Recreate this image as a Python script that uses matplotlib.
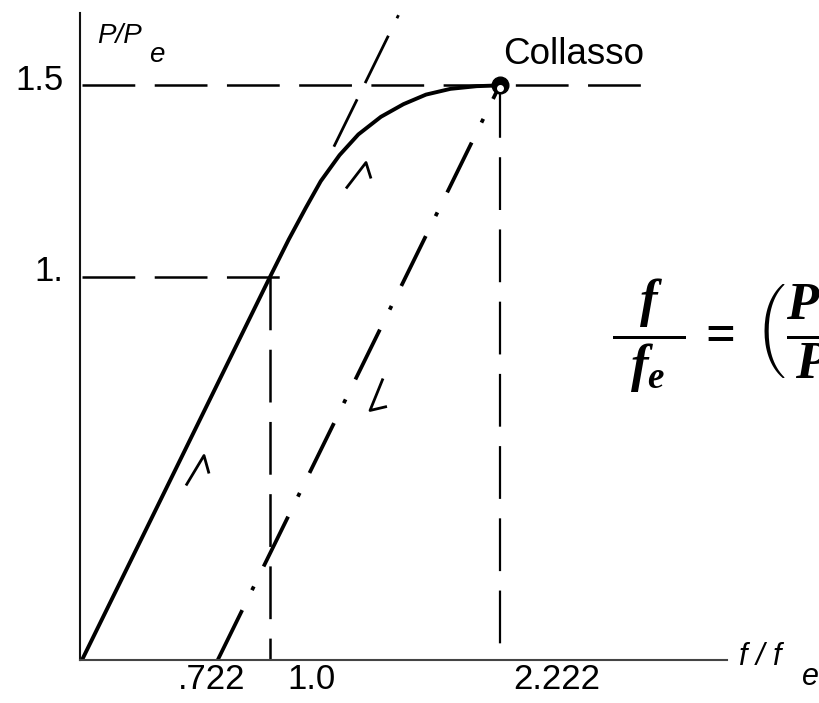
import matplotlib
matplotlib.use("Agg")
import matplotlib.pyplot as plt
import matplotlib.transforms as mtransforms
from matplotlib.path import Path
from matplotlib.markers import MarkerStyle

plt.rcParams["font.family"] = ["Liberation Sans", "DejaVu Sans"]
plt.rcParams["lines.scale_dashes"] = False
plt.rcParams["mathtext.fontset"] = "custom"
plt.rcParams["mathtext.it"] = "Liberation Serif:bold:italic"
plt.rcParams["mathtext.rm"] = "Liberation Serif:bold"
plt.rcParams["mathtext.bf"] = "Liberation Serif:bold:italic"

# load path: elastic branch up to first yield, then elasto-plastic branch to collapse
load_f = [0.0, 1.0, 1.10, 1.19, 1.27, 1.37, 1.47, 1.59, 1.71, 1.83, 1.96, 2.10, 2.222]
load_p = [0.0, 1.0, 1.098, 1.18, 1.25, 1.318, 1.372, 1.418, 1.451, 1.476, 1.491, 1.498, 1.5]

# continuation of the elastic line beyond yield
elastic_f = [1.34, 1.685]
elastic_p = [1.34, 1.685]

# elastic unloading from collapse to the residual deflection
unload_f = [0.722, 2.222]
unload_p = [0.0, 1.5]

f_yield, p_yield = 1.0, 1.0
f_coll, p_coll = 2.222, 1.5

x_tick_vals = [0.722, 1.0, 2.222]
x_tick_text = [".722", "1.0", "2.222"]
y_tick_vals = [1.0, 1.5]
y_tick_text = ["1.", "1.5"]

fig = plt.figure(figsize=(8.2, 7.03), dpi=100)
ax = fig.add_axes([80 / 820, 43 / 703, 647 / 820, 647 / 703])
ax.set_xlim(-0.0106, 3.431)
ax.set_ylim(0.0, 1.689)
for s in ("top", "right"):
    ax.spines[s].set_visible(False)
ax.spines["left"].set_linewidth(1.5)
ax.spines["left"].set_color("#111111")
ax.spines["bottom"].set_linewidth(1.5)
ax.spines["bottom"].set_color("#444444")
ax.set_xticks([])
ax.set_yticks([])

dash = (0, (38, 14))
dashdot = (0, (40, 16, 3, 16))

# reference levels
ax.plot([0, 3.01], [p_coll, p_coll], color="black", lw=1.8, ls=dash)
ax.plot([0, 1.06], [p_yield, p_yield], color="black", lw=1.8, ls=dash)
ax.plot([f_yield, f_yield], [p_yield, 0], color="black", lw=1.8, ls=dash)
ax.plot([f_coll, f_coll], [p_coll, 0], color="black", lw=1.6, ls=dash)

# curves
ax.plot(load_f, load_p, color="black", lw=2.8, solid_capstyle="round", solid_joinstyle="round")
ax.plot(elastic_f, elastic_p, color="black", lw=2.0, ls=(0, (38, 13, 38, 14, 2.5, 20)))
ax.plot(unload_f, unload_p, color="black", lw=2.7, ls=dashdot)

# direction marks
def chevron(verts):
    return MarkerStyle(Path(verts, [Path.MOVETO, Path.LINETO, Path.LINETO]))

mark = dict(mew=2.0, mfc="none", mec="black", ls="none")
ax.plot([0.61], [0.496], marker=chevron([(-11.5, -15), (6.5, 15), (11.5, -3)]), ms=21.6, **mark)
ax.plot([1.466], [1.266], marker=chevron([(-12.5, -13), (7.5, 13), (12.5, -3)]), ms=18.7, **mark)
ax.plot([1.577], [0.695], marker=chevron([(4.5, 16), (-8.5, -16), (8.5, -12)]), ms=23, **mark)

# collapse point
ax.plot([f_coll], [p_coll], "o", ms=12, color="black", zorder=5)
ax.plot([f_coll], [p_coll], "o", ms=4, color="white", zorder=6,
        transform=mtransforms.offset_copy(ax.transData, fig=fig, x=0, y=-3, units="dots"))

# tick labels
lab = dict(fontsize=25, color="black", clip_on=False)
ax.text(0.691, -0.052, x_tick_text[0], ha="center", va="center", **lab)
ax.text(1.095, -0.052, x_tick_text[1], ha="left", va="center", **lab)
ax.text(2.292, -0.052, x_tick_text[2], ha="left", va="center", **lab)
ax.text(-0.10, y_tick_vals[0] + 0.013, y_tick_text[0], ha="right", va="center", **lab)
ax.text(-0.10, y_tick_vals[1] + 0.014, y_tick_text[1], ha="right", va="center", **lab)

# axis titles
ax.text(0.08, 1.611, "P/P", fontsize=20, style="italic", ha="left", va="baseline", clip_on=False)
ax.text(0.355, 1.561, "e", fontsize=20, style="italic", ha="left", va="baseline", clip_on=False)
ax.text(3.495, -0.013, "f / f", fontsize=22, style="italic", ha="left", va="baseline", clip_on=False)
ax.text(3.83, -0.065, "e", fontsize=22, style="italic", ha="left", va="baseline", clip_on=False)

ax.text(2.239, 1.58, "Collasso", fontsize=26.5, ha="left", va="center", clip_on=False)

# load-deflection relation
ax.text(2.819, 0.807,
        r"$\dfrac{\;\,f\;\,}{\;\,f_e\;\,}\,=\;\left(\dfrac{P_e}{P}\right)^2\left[5-\left(3+\dfrac{P}{P_e}\right)\sqrt{3-2\,P/P_e}\,\right]$",
        fontsize=38, ha="left", va="baseline", clip_on=False)

fig.savefig("out.png", dpi=100)
